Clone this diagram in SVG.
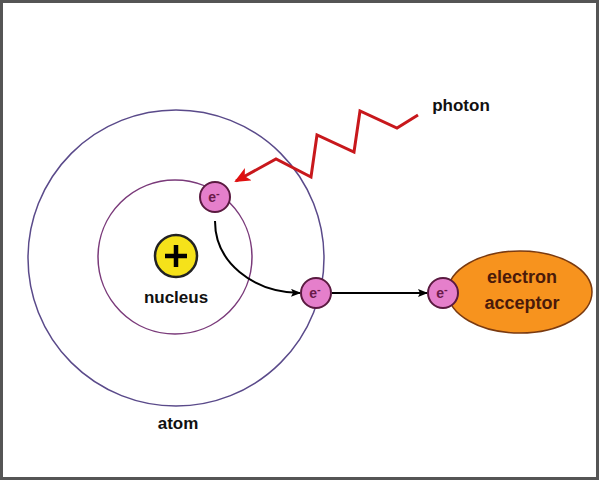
<svg xmlns="http://www.w3.org/2000/svg" width="599" height="480" viewBox="0 0 599 480">
<style>
.orbit{fill:none;stroke:#7a3a7a;stroke-width:1.5}
.outer{stroke:#5a4a8a}
.el{fill:#e57fcb;stroke:#5a1a40;stroke-width:2}
.et{font-family:"Liberation Sans",Arial,sans-serif;font-size:14px;font-weight:bold;fill:#6a1a4a;text-anchor:middle}
.lbl{font-family:"Liberation Sans",Arial,sans-serif;font-size:17px;font-weight:bold;fill:#111;text-anchor:middle}
.acc{font-size:18px;fill:#4a1a0a}
.conn{fill:none;stroke:#000;stroke-width:2}
</style>
<defs>
<marker id="ah" markerWidth="10" markerHeight="8" refX="9" refY="4" orient="auto" markerUnits="userSpaceOnUse">
<path d="M0,0 L10,4 L0,8 L2,4 Z" fill="#000"/>
</marker>
<marker id="rh" markerWidth="16" markerHeight="14" refX="14" refY="7" orient="auto" markerUnits="userSpaceOnUse">
<path d="M0,0 L16,7 L0,14 L4,7 Z" fill="#e01010"/>
</marker>
</defs>
<rect x="0" y="0" width="599" height="480" fill="#fff"/>
<rect x="1.5" y="1.5" width="596" height="477" fill="none" stroke="#555" stroke-width="3"/>
<g id="atom">
<circle class="orbit outer" cx="176" cy="258" r="148"/>
<circle class="orbit" cx="175" cy="257" r="77"/>
<text class="lbl" x="178" y="429">atom</text>
</g>
<g id="nucleus">
<circle cx="176" cy="256" r="21" fill="#f5e21a" stroke="#222" stroke-width="2.5"/>
<path d="M176,245 V267 M165,256 H187" stroke="#000" stroke-width="4.5"/>
<text class="lbl" x="176" y="303" font-size="15">nucleus</text>
</g>
<g id="acceptor">
<ellipse cx="520" cy="292" rx="72" ry="41" fill="#f7931e" stroke="#7a3a10" stroke-width="1.5"/>
<text class="lbl acc" x="522" y="283">electron</text>
<text class="lbl acc" x="522" y="309">acceptor</text>
</g>
<g id="connectors">
<path class="conn" d="M215,221 C215,262 252,292 300,293" marker-end="url(#ah)"/>
<path class="conn" d="M332,293 L427,293" marker-end="url(#ah)"/>
<polyline points="418,115 397,128 360,111 354,152 317,135 311,177 276,159 236,181" fill="none" stroke="#c8181c" stroke-width="3" stroke-linejoin="miter" marker-end="url(#rh)"/>
</g>
<g id="e1">
<circle class="el" cx="215" cy="197" r="15"/>
<text class="et" x="214" y="202">e<tspan font-size="11" dy="-5">-</tspan></text>
</g>
<g id="e2">
<circle class="el" cx="316" cy="293" r="15"/>
<text class="et" x="315" y="298">e<tspan font-size="11" dy="-5">-</tspan></text>
</g>
<g id="e3">
<circle class="el" cx="443" cy="293" r="15"/>
<text class="et" x="442" y="298">e<tspan font-size="11" dy="-5">-</tspan></text>
</g>
<g id="photon">
<text class="lbl" x="461" y="111">photon</text>
</g>
</svg>
